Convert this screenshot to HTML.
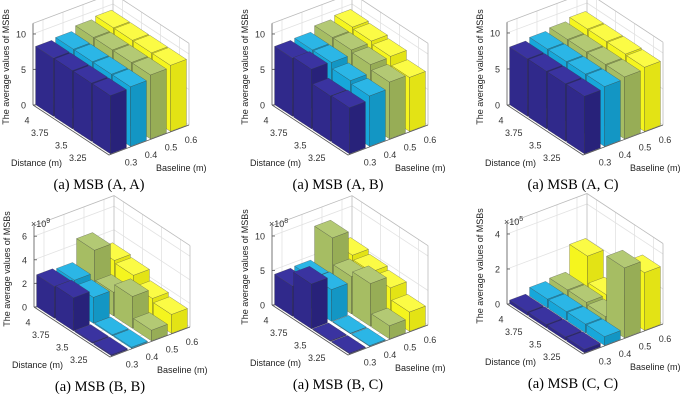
<!DOCTYPE html>
<html><head><meta charset="utf-8">
<style>
html,body{margin:0;padding:0;background:#fff;}
svg{display:block;font-family:"Liberation Sans",sans-serif;}
.tk{font-size:9px;fill:#333;}
.ti{font-size:9px;fill:#222;}
.cap{font-family:"Liberation Serif",serif;font-size:14.5px;fill:#000;}
</style></head>
<body>
<svg id="chart" width="685" height="400" viewBox="0 0 685 400"></svg>
<script>
// categories
const distances = ["4","3.75","3.5","3.25"];
const baselines = ["0.3","0.4","0.5","0.6"];
// series values: rows = baseline (0.3..0.6), cols = distance (4..3.25)
const aaValues = [[8.2,8.2,8.2,8.2],[8.4,8.4,8.4,8.4],[9.0,9.0,9.0,9.0],[9.3,9.3,9.3,9.3]];
const abValues = [[8.2,8.4,6.4,6.5],[8.3,8.3,7.5,7.1],[9.0,9.0,8.7,8.0],[9.4,9.2,8.8,7.6]];
const acValues = [[8.0,8.0,8.0,8.0],[8.3,8.3,8.3,8.3],[8.6,8.6,8.6,8.6],[9.0,9.0,9.0,8.9]];
const bbValues = [[2.7,2.8,0.1,0.1],[2.6,2.2,0.1,0.1],[4.5,2.0,2.7,0.9],[3.0,2.8,1.9,1.6]];
const bcValues = [[4.4,6.5,0.1,0.1],[4.5,4.6,0.1,0.1],[9.2,5.4,6.2,1.9],[5.6,5.0,4.5,2.8]];
const ccValues = [[0.2,0.2,0.2,0.2],[0.5,0.5,0.5,0.5],[0.6,0.6,0.5,4.0],[2.1,0.6,0.3,3.3]];
// tick labels
const ticksA = [0,5,10];
const ticksBB = [0,2,4,6];
const ticksBC = [0,5,10];
const ticksCC = [0,2,4];

const panels = [
 {name:"msb-a-a",cap:"(a) MSB (A, A)",vals:aaValues,ticks:ticksA,ox:33,oy:105,zs:7.1,exp:null},
 {name:"msb-a-b",cap:"(a) MSB (A, B)",vals:abValues,ticks:ticksA,ox:272,oy:105,zs:7.1,exp:null},
 {name:"msb-a-c",cap:"(a) MSB (A, C)",vals:acValues,ticks:ticksA,ox:507,oy:105,zs:7.2,exp:null},
 {name:"msb-b-b",cap:"(a) MSB (B, B)",vals:bbValues,ticks:ticksBB,ox:34,oy:307,zs:11.8,exp:"9"},
 {name:"msb-b-c",cap:"(a) MSB (B, C)",vals:bcValues,ticks:ticksBC,ox:272,oy:305,zs:6.9,exp:"8"},
 {name:"msb-c-c",cap:"(a) MSB (C, C)",vals:ccValues,ticks:ticksCC,ox:507,oy:304,zs:17.5,exp:"5"}
];
const colors=[
 {f:"#30298b",s:"#28227a",t:"#3a33a0"},
 {f:"#17a7da",s:"#1396c4",t:"#2bb6e6"},
 {f:"#a6bd63",s:"#97ad56",t:"#b3c974"},
 {f:"#f5f51e",s:"#e3e315",t:"#fbfb45"}];
const U=[19,12.5], V=[20,-7.5];
const NS="http://www.w3.org/2000/svg";
const svg=document.getElementById("chart");
function mk(tag,attrs,parent){const e=document.createElementNS(NS,tag);for(const k in attrs)e.setAttribute(k,attrs[k]);parent.appendChild(e);return e;}

panels.forEach(p=>{
 const g=mk("g",{},svg);
 
 
 const P=(a,b,z)=>[p.ox+a*U[0]+b*V[0], p.oy+a*U[1]+b*V[1]-z*p.zs];
 const zmax=p.ticks[p.ticks.length-1];
 const ztop=zmax*1.15;
 const pts=a=>a.map(q=>q.join(",")).join(" ");
 const grid=mk("g",{stroke:"#e2e2e2","stroke-width":"0.8",fill:"none"},g);
 
 
 p.ticks.forEach(t=>{
   const a=P(0,0,t),b=P(0,4,t),c=P(4,4,t);
   mk("polyline",{points:pts([a,b,c])},grid);
 });
 for(let k=0;k<4;k++){
   const a=P(0,k+0.5,0),b=P(0,k+0.5,ztop);
   mk("line",{x1:a[0],y1:a[1],x2:b[0],y2:b[1]},grid);
   const c=P(k+0.5,4,0),d=P(k+0.5,4,ztop);
   mk("line",{x1:c[0],y1:c[1],x2:d[0],y2:d[1]},grid);
   const e=P(0,k+0.5,0),f=P(4,k+0.5,0);
   mk("line",{x1:e[0],y1:e[1],x2:f[0],y2:f[1]},grid);
   const h=P(k+0.5,0,0),i=P(k+0.5,4,0);
   mk("line",{x1:h[0],y1:h[1],x2:i[0],y2:i[1]},grid);
 }
 const box=mk("g",{stroke:"#bbb","stroke-width":"0.8",fill:"none"},g);
 
 
 mk("polyline",{points:pts([P(0,0,ztop),P(0,4,ztop),P(4,4,ztop)])},box);
 mk("polyline",{points:pts([P(0,4,0),P(0,4,ztop)])},box);
 mk("polyline",{points:pts([P(4,4,0),P(4,4,ztop)])},box);
 mk("polyline",{points:pts([P(0,0,0),P(4,0,0),P(4,4,0)]),stroke:"#555"},box);
 mk("polyline",{points:pts([P(0,0,0),P(0,0,ztop)]),stroke:"#555"},box);
 p.ticks.forEach(t=>{
   const a=P(0,0,t);
   const tx=mk("text",{x:a[0]-7,y:a[1]+3.5,"text-anchor":"end",class:"tk"},g);
   tx.textContent=t;
   
   
   mk("line",{x1:a[0],y1:a[1],x2:a[0]+3,y2:a[1],stroke:"#555","stroke-width":"0.8"},g);
 });
 if(p.exp){
   const a=P(0,0,zmax);
   const ex=mk("text",{x:a[0]-3,y:a[1]-9,class:"tk","font-size":"8px"},g);
   ex.innerHTML='\u00d710<tspan dy="-4" font-size="7">'+p.exp+'</tspan>';
   
   
 }
 distances.forEach((d,i)=>{
   const a=P(i+0.5,0,0);
   const tx=mk("text",{x:a[0]-13,y:a[1]+12,"text-anchor":"end",class:"tk"},g);
   tx.textContent=d;
   
   
 });
 baselines.forEach((b,j)=>{
   const a=P(4,j+0.5,0);
   const tx=mk("text",{x:a[0]+12,y:a[1]+14,"text-anchor":"middle",class:"tk"},g);
   tx.textContent=b;
   
   
 });
 const order=[];
 for(let i=0;i<4;i++)for(let j=0;j<4;j++)order.push([i,j]);
 order.sort((a,b)=>(a[0]-a[1])-(b[0]-b[1]) || a[0]-b[0]);
 order.forEach(([i,j])=>{
   const z=p.vals[j][i], c=colors[j];
   const a0=i+0.03,a1=i+0.97,b0=j+0.1,b1=j+0.9;
   const bg=mk("g",{stroke:"#333","stroke-width":"0.5","stroke-opacity":"0.5"},g);
   
   
   mk("polygon",{points:pts([P(a0,b0,0),P(a1,b0,0),P(a1,b0,z),P(a0,b0,z)]),fill:c.f},bg);
   mk("polygon",{points:pts([P(a1,b0,0),P(a1,b1,0),P(a1,b1,z),P(a1,b0,z)]),fill:c.s},bg);
   mk("polygon",{points:pts([P(a0,b0,z),P(a1,b0,z),P(a1,b1,z),P(a0,b1,z)]),fill:c.t},bg);
 });
 const dt=mk("text",{x:p.ox-22,y:p.oy+61,class:"ti"},g);
 dt.textContent="Distance (m)";
 
 
 const bt=mk("text",{x:p.ox+123,y:p.oy+66,class:"ti"},g);
 bt.textContent="Baseline (m)";
 
 
 const yx=p.ox-24, yy=p.oy-38;
 const yt=mk("text",{x:yx,y:yy,class:"ti","text-anchor":"middle",transform:`rotate(-90 ${yx} ${yy})`},g);
 yt.textContent="The average values of MSBs";
 
 
 const cp=mk("text",{x:p.ox+66,y:p.oy+84,class:"cap","text-anchor":"middle"},g);
 cp.textContent=p.cap;
 
 
});
</script>
</body></html>
